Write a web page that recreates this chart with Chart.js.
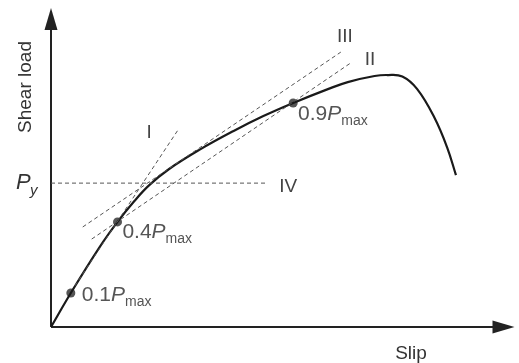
<!DOCTYPE html>
<html>
<head>
<meta charset="utf-8">
<script src="https://cdn.jsdelivr.net/npm/chart.js@4.4.1/dist/chart.umd.min.js"></script>
<style>
  html, body { margin: 0; padding: 0; background: #fff; }
  #wrap { width: 519px; height: 363px; position: relative; }
</style>
</head>
<body>
<div id="wrap"><canvas id="c"></canvas></div>
<script>
// load-slip curve (slip in %, load as fraction of Pmax)
const slip = [0, 4.28, 10.49, 14.35, 17.99, 21.2, 25.48, 31.91, 39.4, 45.82, 52.25, 59.74, 64.03, 69.81, 72.59, 75.8, 79.01, 82.66, 85.44, 87.37];
const load = [0, 0.135, 0.317, 0.417, 0.5, 0.563, 0.627, 0.702, 0.778, 0.837, 0.889, 0.944, 0.972, 0.996, 1.0, 0.994, 0.944, 0.833, 0.714, 0.603];

// marked points on the curve
const markSlip = [4.28, 14.35, 52.25];
const markLoad = [0.135, 0.417, 0.889];
const markText = ['0.1', '0.4', '0.9'];
const markLabelSlip = [6.64, 15.4, 53.3];
const markLabelLoad = [0.103, 0.353, 0.821];

// dashed construction lines
const lineISlip = [5.14, 27.4],   lineILoad = [0.163, 0.782];
const lineIISlip = [8.78, 64.67], lineIILoad = [0.349, 1.048];
const lineIIISlip = [6.85, 62.53], lineIIILoad = [0.397, 1.091];
const lineIVSlip = [0, 46.5],     lineIVLoad = [0.571, 0.571];

const romanText = ['I', 'II', 'III', 'IV'];
const romanSlip = [20.6, 67.7, 61.7, 49.25];
const romanLoad = [0.75, 1.04, 1.131, 0.536];

const toPts = (xs, ys) => xs.map((x, i) => ({ x, y: ys[i] }));
const FONT = '"Liberation Sans", Arial, sans-serif';

const dashed = (xs, ys) => ({
    data: toPts(xs, ys), borderColor: '#555', borderWidth: 1, borderDash: [4, 3],
    pointRadius: 0, fill: false, tension: 0
});

// axes with arrows + all the text
const decor = {
    id: 'decor',
    beforeDatasetsDraw(chart) {
        const { ctx, chartArea: a } = chart;
        ctx.save();
        ctx.strokeStyle = '#222'; ctx.fillStyle = '#222'; ctx.lineWidth = 2;
        ctx.beginPath();
        ctx.moveTo(a.left, a.bottom); ctx.lineTo(a.left, a.top + 18);
        ctx.moveTo(a.left, a.bottom); ctx.lineTo(a.right - 18, a.bottom);
        ctx.stroke();
        ctx.beginPath();
        ctx.moveTo(a.left, a.top); ctx.lineTo(a.left - 6.5, a.top + 22); ctx.lineTo(a.left + 6.5, a.top + 22);
        ctx.closePath(); ctx.fill();
        ctx.beginPath();
        ctx.moveTo(a.right, a.bottom); ctx.lineTo(a.right - 22, a.bottom - 6.5); ctx.lineTo(a.right - 22, a.bottom + 6.5);
        ctx.closePath(); ctx.fill();
        ctx.restore();
    },
    afterDatasetsDraw(chart) {
        const { ctx } = chart;
        const xs = chart.scales.x, ys = chart.scales.y;
        ctx.save();
        ctx.textBaseline = 'alphabetic';

        // axis titles
        ctx.fillStyle = '#333';
        ctx.font = '19px ' + FONT;
        ctx.textAlign = 'center';
        ctx.fillText('Slip', 411, 359);
        ctx.save();
        ctx.translate(31, 87); ctx.rotate(-Math.PI / 2);
        ctx.fillText('Shear load', 0, 0);
        ctx.restore();

        // P_y
        const py = ys.getPixelForValue(lineIVLoad[0]);
        ctx.textAlign = 'left';
        ctx.font = 'italic 22px ' + FONT;
        ctx.fillText('P', 16, py + 6);
        ctx.font = 'italic 15px ' + FONT;
        ctx.fillText('y', 30, py + 12);

        // roman numerals
        ctx.fillStyle = '#444';
        ctx.font = '19px ' + FONT;
        romanText.forEach((t, i) => {
            ctx.fillText(t, xs.getPixelForValue(romanSlip[i]), ys.getPixelForValue(romanLoad[i]));
        });

        // 0.xPmax labels
        ctx.fillStyle = '#555';
        markText.forEach((t, i) => {
            let x = xs.getPixelForValue(markLabelSlip[i]);
            const y = ys.getPixelForValue(markLabelLoad[i]);
            ctx.font = '21px ' + FONT;
            ctx.fillText(t, x, y); x += ctx.measureText(t).width;
            ctx.font = 'italic 21px ' + FONT;
            ctx.fillText('P', x, y); x += ctx.measureText('P').width;
            ctx.font = '14px ' + FONT;
            ctx.fillText('max', x, y + 5);
        });
        ctx.restore();
    }
};

new Chart(document.getElementById('c'), {
    type: 'line',
    data: {
        datasets: [
            dashed(lineISlip, lineILoad),
            dashed(lineIISlip, lineIILoad),
            dashed(lineIIISlip, lineIIILoad),
            dashed(lineIVSlip, lineIVLoad),
            {
                data: toPts(slip, load), borderColor: '#1a1a1a', borderWidth: 2.2,
                pointRadius: 0, fill: false, tension: 0.4
            },
            {
                data: toPts(markSlip, markLoad), showLine: false,
                pointRadius: 4.5, pointBackgroundColor: '#555', pointBorderColor: '#555', pointBorderWidth: 0
            }
        ]
    },
    options: {
        responsive: true, maintainAspectRatio: false, animation: false,
        layout: { padding: { left: 51, right: 1, top: 8, bottom: 36 } },
        plugins: { legend: { display: false }, tooltip: { enabled: false } },
        scales: {
            x: { type: 'linear', min: 0, max: 100, display: false },
            y: { min: 0, max: 1.266, display: false }
        }
    },
    plugins: [decor]
});
</script>
</body>
</html>
